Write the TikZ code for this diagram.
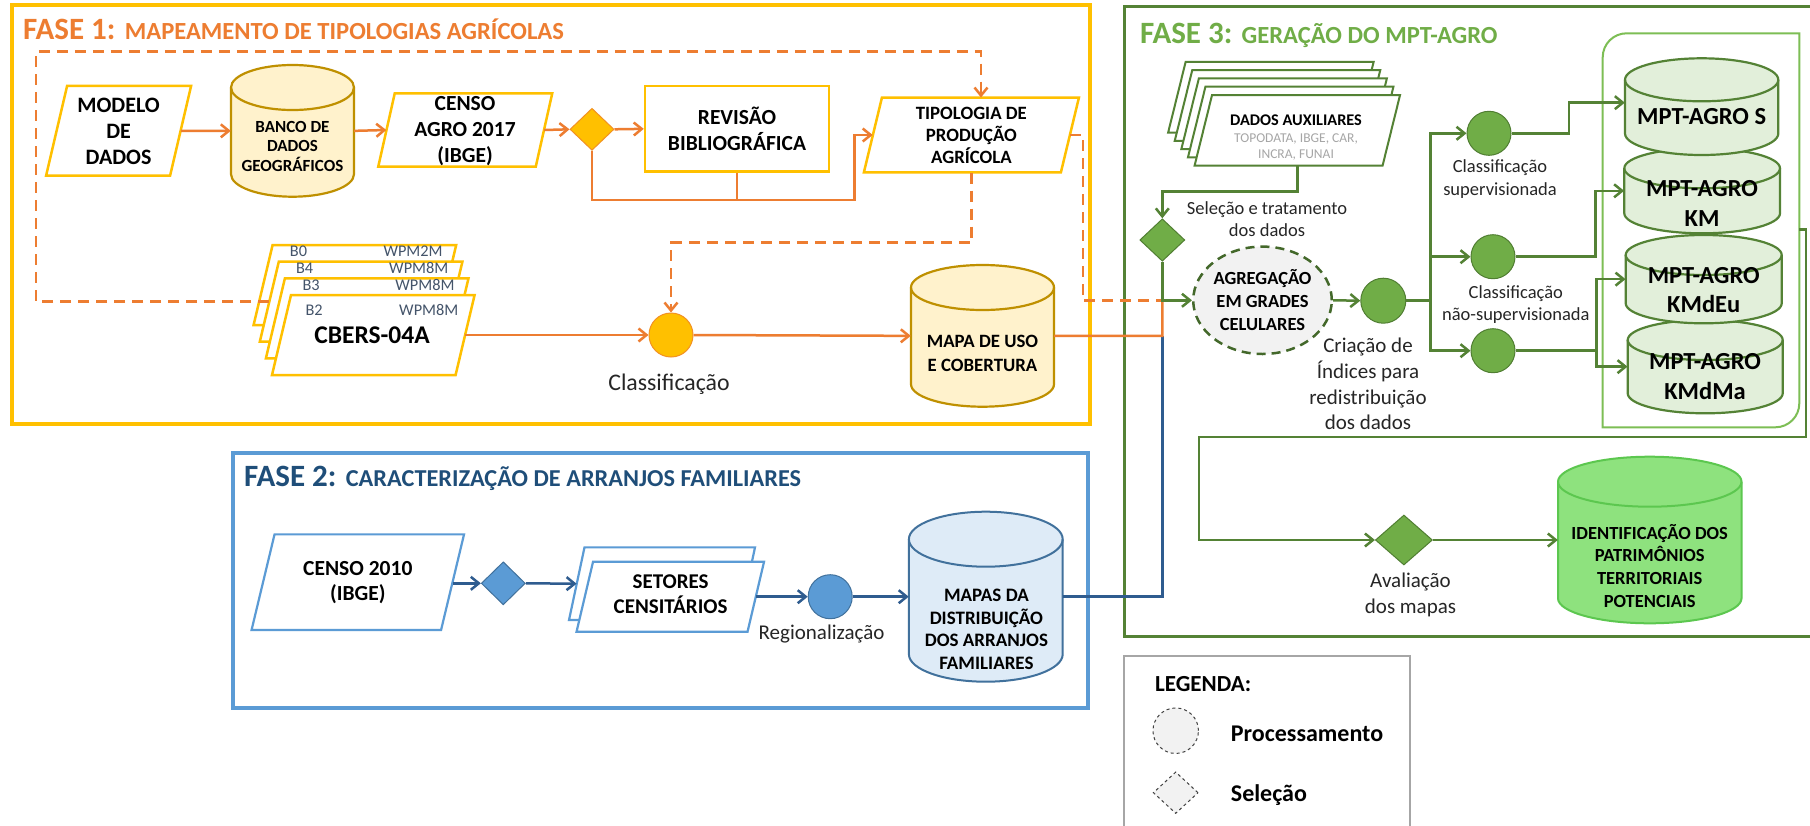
\documentclass[tikz,border=0pt]{standalone}
\usepackage{fontspec}
\setmainfont{Carlito}
\usetikzlibrary{shapes.geometric,arrows.meta,calc}

\definecolor{corange}{HTML}{ED7D31}
\definecolor{cyellow}{HTML}{FFC000}
\definecolor{cycylfill}{HTML}{FFF2CC}
\definecolor{cycyldraw}{HTML}{BF9000}
\definecolor{cbframe}{HTML}{5B9BD5}
\definecolor{cbtitle}{HTML}{1F4E79}
\definecolor{cbline}{HTML}{2F5C8F}
\definecolor{cbfill}{HTML}{DEEBF7}
\definecolor{cbdark}{HTML}{41719C}
\definecolor{cgframe}{HTML}{548235}
\definecolor{cgtitle}{HTML}{70AD47}
\definecolor{cgdark}{HTML}{507E32}
\definecolor{cgfill}{HTML}{E2EFDA}
\definecolor{cggroup}{HTML}{7DBE55}
\definecolor{cidfill}{HTML}{8EE27E}
\definecolor{ciddraw}{HTML}{5CC74F}
\definecolor{ctext}{HTML}{262626}
\definecolor{cband}{HTML}{44546A}
\definecolor{cgraytxt}{HTML}{A6A6A6}
\definecolor{clegbox}{HTML}{A6A6A6}
\definecolor{cproc}{HTML}{F2F2F2}

\newcommand{\fsz}[2]{\fontsize{#1}{#2}\selectfont}

% parallelogram: name, centre x, centre y, width, height, slant, style
\newcommand{\paral}[7]{%
  \draw[#7] (#2-#4/2+#6/2,#3-#5/2) -- ++(#4,0) -- ++(-#6,#5) -- ++(-#4,0) -- cycle;
  \node[inner sep=0pt,minimum width=#4,minimum height=#5] (#1) at (#2,#3) {};
}

% cylinder: name, left, top, right, bottom, rim radius, style
\newcommand{\cylnode}[7]{%
  \pgfmathsetmacro\cyCx{(#2+#4)/2}%
  \pgfmathsetmacro\cyRx{(#4-#2)/2}%
  \pgfmathsetmacro\cyT{#3+#6}%
  \pgfmathsetmacro\cyB{#5-#6}%
  \pgfmathsetmacro\cyKx{0.5523*\cyRx}%
  \pgfmathsetmacro\cyKy{0.5523*#6}%
  \path[#7] (#2,\cyT) -- (#2,\cyB)
     .. controls (#2,\cyB+\cyKy) and (\cyCx-\cyKx,#5) .. (\cyCx,#5)
     .. controls (\cyCx+\cyKx,#5) and (#4,\cyB+\cyKy) .. (#4,\cyB)
     -- (#4,\cyT)
     .. controls (#4,\cyT-\cyKy) and (\cyCx+\cyKx,#3) .. (\cyCx,#3)
     .. controls (\cyCx-\cyKx,#3) and (#2,\cyT-\cyKy) .. cycle;
  \draw[#7,fill=none] (#2,\cyT)
     .. controls (#2,\cyT+\cyKy) and (\cyCx-\cyKx,\cyT+#6) .. (\cyCx,\cyT+#6)
     .. controls (\cyCx+\cyKx,\cyT+#6) and (#4,\cyT+\cyKy) .. (#4,\cyT);
  \node[inner sep=0pt,minimum width=#4-#2,minimum height=#5-#3] (#1) at (\cyCx,{(#3+#5)/2}) {};
}

\tikzset{
  arr/.style={-{Straight Barb[length=8pt,width=13pt]}},
  oline/.style={draw=corange,line width=2.5pt},
  odash/.style={oline,dash pattern=on 11pt off 7pt},
  bline/.style={draw=cbline,line width=2.5pt},
  gline/.style={draw=cgframe,line width=2.5pt},
  ypara/.style={draw=cyellow,line width=2.5pt,fill=white},
  bpara/.style={draw=cbframe,line width=2.2pt,fill=white},
  gpara/.style={draw=cgframe,line width=2pt,fill=white},
  ycyl/.style={draw=cycyldraw,line width=2.2pt,fill=cycylfill},
  bcyl/.style={draw=cbdark,line width=2pt,fill=cbfill},
  gcyl/.style={draw=cgframe,line width=2.2pt,fill=cgfill},
  icyl/.style={draw=ciddraw,line width=2pt,fill=cidfill},
  btxt/.style={align=center,inner sep=0pt,font=\bfseries},
  ltxt/.style={align=center,inner sep=0pt,text=ctext},
  ttl/.style={anchor=base west,inner sep=0pt,font=\bfseries},
}

\begin{document}
\begin{tikzpicture}[x=1pt,y=-1pt]
\useasboundingbox (0,0) rectangle (1810,825);
\fill[white] (0,0) rectangle (1810,825);

% ---------------- phase frames ----------------
\draw[cyellow,line width=4pt] (11.5,5) rectangle (1090,424);
\draw[cbframe,line width=4pt] (232.6,452.7) rectangle (1088,708.3);
\draw[cgframe,line width=3pt] (1124.4,6.7) rectangle (1850,636.7);
\draw[clegbox,line width=1.5pt] (1124,656) rectangle (1410,850);

\node[ttl,text=corange] (t1) at (23,39.3) {\fsz{31}{31}FASE 1: \fsz{24.6}{24.6}MAPEAMENTO DE TIPOLOGIAS AGRÍCOLAS};
\node[ttl,text=cbtitle] (t2) at (244,486.7) {\fsz{31}{31}FASE 2: \fsz{24.3}{24.3}CARACTERIZAÇÃO DE ARRANJOS FAMILIARES};
\node[ttl,text=cgtitle] (t3) at (1139.8,43.3) {\fsz{31}{31}FASE 3: \fsz{24.6}{24.6}GERAÇÃO DO MPT-AGRO};

% ---------------- phase 1 ----------------
\paral{modelo}{118.6}{130.8}{124}{89.7}{21}{ypara}
\node[btxt,font=\bfseries\fsz{22}{26}] (modeloT) at (118.6,131.7) {MODELO\\DE\\DADOS};

\cylnode{banco}{231}{65}{354}{196.7}{22.5}{ycyl}
\node[btxt,font=\bfseries\fsz{17}{19.5}] (bancoT) at (292.5,146) {BANCO DE\\DADOS\\GEOGRÁFICOS};

\paral{censo}{465.25}{130}{157.5}{73.4}{16.5}{ypara}
\node[btxt,font=\bfseries\fsz{21.5}{25.8}] (censoT) at (465,131) {CENSO\\AGRO 2017\\(IBGE)};

\node[diamond,fill=cyellow,draw=corange!70!cyellow,line width=1pt,inner sep=0pt,minimum width=44,minimum height=42] (d1) at (592,129.3) {};

\node[draw=cyellow,line width=2.5pt,fill=white,minimum width=184,minimum height=85.7,inner sep=0pt,align=center,font=\bfseries\fsz{21.5}{26.3}] (rev) at (737,128.85) {REVISÃO\\BIBLIOGRÁFICA};

\paral{tipo}{971.4}{135}{197}{74.6}{18}{ypara}
\node[btxt,font=\bfseries\fsz{18.8}{22}] (tipoT) at (971.4,135.3) {TIPOLOGIA DE\\PRODUÇÃO\\AGRÍCOLA};

% CBERS-04A band stack
\paral{cb0}{354.9}{285}{183.6}{80}{19}{ypara}
\paral{cb4}{361.1}{301.7}{183.6}{80}{19}{ypara}
\paral{cb3}{367.2}{318.3}{183.6}{80}{19}{ypara}
\paral{cb2}{373.3}{335}{183.6}{80}{19}{ypara}
\begin{scope}[every node/.style={inner sep=0pt,text=cband,font=\fsz{16.3}{16.3}}]
\node[anchor=west] (b0a) at (289.7,251.7) {B0};
\node[anchor=east] (b0b) at (442.8,251.7) {WPM2M};
\node[anchor=west] (b4a) at (295.8,268.3) {B4};
\node[anchor=east] (b4b) at (448.5,268.3) {WPM8M};
\node[anchor=west] (b3a) at (302.3,285) {B3};
\node[anchor=east] (b3b) at (454.7,285) {WPM8M};
\node[anchor=west] (b2a) at (305.4,310) {B2};
\node[anchor=east] (b2b) at (458.5,310) {WPM8M};
\end{scope}
\node[btxt,font=\bfseries\fsz{25.5}{25.5}] (cbT) at (372,335) {CBERS-04A};

\node[circle,fill=cyellow,draw=corange!70!cyellow,line width=1pt,inner sep=0pt,minimum size=44] (c1) at (671,335) {};
\node[ltxt,font=\fsz{23.8}{23.8}] (c1T) at (669,384) {Classificação};

\cylnode{mapa}{911}{265}{1054}{406.7}{22.5}{ycyl}
\node[btxt,font=\bfseries\fsz{18.8}{23.3}] (mapaT) at (982.5,353.4) {MAPA DE USO\\E COBERTURA};

% phase 1 connectors
\coordinate (j1) at (854.5,200);
\coordinate (dA) at (36,51.7);
\coordinate (dC) at (671,242.7);
\coordinate (dD) at (1083,300.7);
\coordinate (jG) at (1162.3,300.7);
\coordinate (jO) at (1162.3,335.85);

\draw[oline,arr] (modelo.east) -- (banco.west);
\draw[oline,arr] (banco.east) -- (censo.west);
\draw[oline,arr] (censo.east) -- (d1.west);
\draw[oline,arr] (d1.east) -- (rev.west);
\draw[oline,arr] (d1.south) |- (j1) |- (tipo.west);
\draw[oline] (rev.south) -- (rev.south |- j1);
\draw[oline,arr] (cb2.east) -- (c1.west);
\draw[oline,arr] (c1.east) -- (mapa.west);
\draw[odash,arr] (cb4.west) -| (dA) -| ($(tipo.north)+(9.6,0)$);
\draw[odash,arr] (tipo.south) |- (dC) -- (c1.north);
\draw[odash] (tipo.east) -| (dD) -- (jG);

% ---------------- phase 2 ----------------
\paral{censo2}{357.8}{582.2}{189.5}{95.7}{23}{bpara}
\node[btxt,font=\bfseries\fsz{21.5}{25}] (censo2T) at (357.8,582.5) {CENSO 2010\\(IBGE)};

\node[diamond,fill=cbframe,draw=cbdark,line width=1pt,inner sep=0pt,minimum width=44,minimum height=43] (d2) at (503.3,583.3) {};

\paral{set1}{662}{583.7}{170.5}{72.7}{15.5}{bpara}
\paral{set2}{670.3}{596.7}{171}{70}{16.5}{bpara}
\node[btxt,font=\bfseries\fsz{21}{25}] (setT) at (670.6,594.2) {SETORES\\CENSITÁRIOS};

\node[circle,fill=cbframe,draw=cbdark,line width=1pt,inner sep=0pt,minimum size=44] (c2) at (830.2,596.7) {};
\node[ltxt,font=\fsz{21}{21}] (c2T) at (821.6,634.3) {Regionalização};

\cylnode{mapas}{908.9}{511.7}{1062.7}{681.7}{27.5}{bcyl}
\node[btxt,font=\bfseries\fsz{19}{22.6}] (mapasT) at (986.4,629.5) {MAPAS DA\\DISTRIBUIÇÃO\\DOS ARRANJOS\\FAMILIARES};

\draw[bline,arr] (censo2.east |- d2.west) -- (d2.west);
\draw[bline,arr] (d2.east) -- (set1.west);
\draw[bline,arr] (set2.east) -- (c2.west);
\draw[bline,arr] (c2.east) -- (mapas.west);
\draw[bline] (mapas.east) -| (jO);
\draw[oline] (mapa.east) -- (jO) -- (jG);

% ---------------- phase 3 ----------------
\paral{aux0}{1270.9}{97.15}{188}{70.7}{17.5}{gpara}
\paral{aux1}{1277.5}{105.45}{188}{70.7}{17.5}{gpara}
\paral{aux2}{1284.1}{113.75}{188}{70.7}{17.5}{gpara}
\paral{aux3}{1290.7}{122.05}{188}{70.7}{17.5}{gpara}
\paral{aux4}{1297.3}{130.35}{188}{70.7}{17.5}{gpara}
\node[btxt,font=\bfseries\fsz{16.3}{16.3}] (auxT) at (1296,120.7) {DADOS AUXILIARES};
\node[ltxt,text=cgraytxt,font=\fsz{13.5}{15.7}] (auxS) at (1296,147.2) {TOPODATA, IBGE, CAR,\\INCRA, FUNAI};

\node[diamond,fill=cgtitle,draw=cgdark,line width=1pt,inner sep=0pt,minimum width=45,minimum height=42.4] (d3) at (1162.3,240) {};
\node[ltxt,font=\fsz{18.5}{21.7}] (selT) at (1267,219.2) {Seleção e tratamento\\dos dados};

\node[ellipse,fill=cproc,draw=cgframe!80!black,line width=2.5pt,dash pattern=on 9pt off 6pt,inner sep=0pt,minimum width=135,minimum height=107.4,align=center,font=\bfseries\fsz{18.5}{23}] (agr) at (1262.5,300.3) {AGREGAÇÃO\\EM GRADES\\CELULARES};

\node[circle,fill=cgtitle,draw=cgdark,line width=1pt,inner sep=0pt,minimum size=45] (c3) at (1383.3,300.7) {};
\node[ltxt,font=\fsz{21}{25.7}] (c3T) at (1368,384.2) {Criação de\\Índices para\\redistribuição\\dos dados};

\node[circle,fill=cgtitle,draw=cgdark,line width=1pt,inner sep=0pt,minimum size=44] (c4) at (1489,133.3) {};
\node[circle,fill=cgtitle,draw=cgdark,line width=1pt,inner sep=0pt,minimum size=44] (c5) at (1493,256.7) {};
\node[circle,fill=cgtitle,draw=cgdark,line width=1pt,inner sep=0pt,minimum size=44] (c6) at (1493,350.7) {};
\node[ltxt,font=\fsz{18.5}{23}] (c4T) at (1500,179.2) {Classificação\\supervisionada};
\node[ltxt,font=\fsz{18.5}{22.7}] (c5T) at (1515.8,304.7) {Classificação\\não-supervisionada};

% grouped outputs
\draw[cggroup,line width=2pt] (1602.7,427.3) -- (1602.7,57.3)
   .. controls (1602.7,44) and (1613.4,33.3) .. (1626.7,33.3) -- (1799.3,33.3) -- (1799.3,403.3)
   .. controls (1799.3,416.6) and (1788.6,427.3) .. (1775.3,427.3) -- cycle;
\cylnode{mMa}{1627.7}{320}{1782.7}{413.3}{20}{gcyl}
\cylnode{mEu}{1625.7}{235}{1781.7}{323.3}{20}{gcyl}
\cylnode{mKM}{1624.3}{148.3}{1780}{233.3}{20}{gcyl}
\cylnode{mS}{1625}{58.3}{1778.3}{155}{21.5}{gcyl}
\node[btxt,font=\bfseries\fsz{24.5}{30}] (mST) at (1701.7,116.7) {MPT-AGRO S};
\node[btxt,font=\bfseries\fsz{24.5}{30}] (mKMT) at (1702,203.3) {MPT-AGRO\\KM};
\node[btxt,font=\bfseries\fsz{24.5}{29}] (mEuT) at (1703.7,290.5) {MPT-AGRO\\KMdEu};
\node[btxt,font=\bfseries\fsz{24.5}{30}] (mMaT) at (1705,376.7) {MPT-AGRO\\KMdMa};

\node[diamond,fill=cgtitle,draw=cgdark,line width=1pt,inner sep=0pt,minimum width=57,minimum height=50] (d4) at (1403.9,540) {};
\node[ltxt,font=\fsz{21}{26.6}] (d4T) at (1410.5,595) {Avaliação\\dos mapas};

\cylnode{idt}{1558}{456.7}{1741.5}{623.3}{25}{icyl}
\node[btxt,font=\bfseries\fsz{18.5}{22.8}] (idtT) at (1649.7,565.9) {IDENTIFICAÇÃO DOS\\PATRIMÔNIOS\\TERRITORIAIS\\POTENCIAIS};

% phase 3 connectors
\coordinate (j3) at (1162.3,191.7);
\coordinate (jC) at (1430.3,300.7);
\coordinate (kA) at (1569,133.3);
\coordinate (kB) at (1595.3,256.7);
\coordinate (kC) at (1596.7,350.7);
\coordinate (gR) at (1799.3,229.3);
\coordinate (lp1) at (1806,229.3);
\coordinate (lp2) at (1199,437);

\draw[gline,arr] (aux4.south) |- (j3) -- (d3.north);
\draw[gline,arr] (d3.south) |- (agr.west);
\draw[gline,arr] (agr.east) -- (c3.west);
\draw[gline] (c3.east) -- (jC);
\draw[gline,arr] (jC) |- (c4.west);
\draw[gline,arr] (jC) |- (c5.west);
\draw[gline,arr] (jC) |- (c6.west);
\draw[gline,arr] (c4.east) -- (kA) |- ($(mS.west)+(0,-4)$);
\draw[gline,arr] (c5.east) -- (kB) |- (mKM.west);
\draw[gline] (c6.east) -- (kC);
\draw[gline,arr] (kC) |- (mEu.west);
\draw[gline,arr] (kC) |- (mMa.west);
\draw[gline,arr] (gR) -- (lp1) |- (lp2) |- (d4.west);
\draw[gline,arr] (d4.east) -- (idt.west);

% ---------------- legend ----------------
\node[ttl,font=\bfseries\fsz{23}{23}] (legT) at (1155,691.7) {LEGENDA:};
\node[circle,fill=cproc,draw=black!75,line width=1pt,dashed,inner sep=0pt,minimum size=45.5] (legC) at (1175.7,730.7) {};
\node[ttl,font=\bfseries\fsz{24}{24}] (legP) at (1230.7,741.7) {Processamento};
\node[diamond,fill=cproc,draw=black!75,line width=1pt,dashed,inner sep=0pt,minimum width=45,minimum height=41.6] (legD) at (1175.7,792.7) {};
\node[ttl,font=\bfseries\fsz{24}{24}] (legS) at (1230.7,801.7) {Seleção};
\end{tikzpicture}
\end{document}
